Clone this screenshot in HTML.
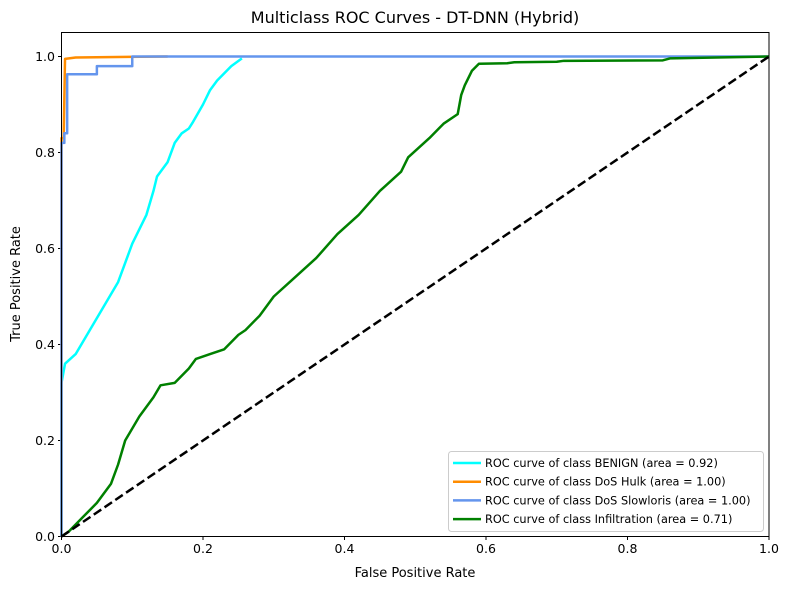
<!DOCTYPE html>
<html><head><meta charset="utf-8"><style>
body{margin:0;background:#fff;}
svg{display:block;font-family:"DejaVu Sans","Liberation Sans",sans-serif;}
</style></head><body>
<svg id="chart" width="789" height="590">
<rect width="789" height="590" fill="#fff"/>
<text x="415" y="23" font-size="16" text-anchor="middle">Multiclass ROC Curves - DT-DNN (Hybrid)</text>
<g id="ticks"></g>
<g id="plot"></g>
<rect x="61.5" y="32.5" width="707.5" height="504" fill="none" stroke="#000" stroke-width="1"/>
<text x="415" y="577" font-size="13" text-anchor="middle">False Positive Rate</text>
<text x="20" y="284" font-size="13" text-anchor="middle" transform="rotate(-90 20 284)">True Positive Rate</text>
<g id="legend"></g>
</svg>
<script>
const xTicks=[0,0.2,0.4,0.6,0.8,1.0];
const yTicks=[0,0.2,0.4,0.6,0.8,1.0];
const xTickLabels=["0.0","0.2","0.4","0.6","0.8","1.0"];
const yTickLabels=["0.0","0.2","0.4","0.6","0.8","1.0"];
const seriesNames=["ROC curve of class BENIGN (area = 0.92)","ROC curve of class DoS Hulk (area = 1.00)","ROC curve of class DoS Slowloris (area = 1.00)","ROC curve of class Infiltration (area = 0.71)"];
const seriesColors=["#00ffff","#ff8c00","#6495ed","#008000"];
const benignFpr=[0,0,0.005,0.02,0.04,0.06,0.08,0.09,0.10,0.11,0.12,0.13,0.135,0.15,0.16,0.17,0.18,0.186,0.20,0.21,0.22,0.24,0.255];
const benignTpr=[0,0.32,0.36,0.38,0.43,0.48,0.53,0.57,0.61,0.64,0.67,0.72,0.75,0.78,0.82,0.84,0.85,0.864,0.90,0.93,0.95,0.98,0.996];
const hulkFpr=[0,0,0.003,0.005,0.02,0.15];
const hulkTpr=[0,0.83,0.83,0.995,0.998,1.0];
const slowFpr=[0,0,0.004,0.004,0.008,0.008,0.05,0.05,0.1,0.1,1];
const slowTpr=[0,0.82,0.82,0.84,0.84,0.963,0.963,0.98,0.98,1.0,1.0];
const infFpr=[0,0.01,0.03,0.05,0.07,0.08,0.09,0.11,0.13,0.14,0.16,0.18,0.19,0.21,0.23,0.25,0.26,0.28,0.3,0.33,0.36,0.39,0.42,0.45,0.48,0.49,0.52,0.54,0.56,0.565,0.57,0.58,0.59,0.63,0.64,0.7,0.71,0.85,0.86,1];
const infTpr=[0,0.01,0.04,0.07,0.11,0.15,0.2,0.25,0.29,0.315,0.32,0.35,0.37,0.38,0.39,0.42,0.43,0.46,0.5,0.54,0.58,0.63,0.67,0.72,0.76,0.79,0.83,0.86,0.88,0.92,0.94,0.97,0.985,0.986,0.988,0.989,0.991,0.992,0.996,1];
const diagX=[0,1];
const diagY=[0,1];

const NS="http://www.w3.org/2000/svg";
const X=v=>61.5+707.5*v, Y=v=>536.5-480*v;
const ticks=document.getElementById('ticks'), plot=document.getElementById('plot'), legend=document.getElementById('legend');
function mk(tag,attrs,parent){const e=document.createElementNS(NS,tag);for(const k in attrs)e.setAttribute(k,attrs[k]);parent.appendChild(e);return e;}
xTicks.forEach((t,i)=>{
  const l=mk('line',{x1:X(t),x2:X(t),y1:536.5,y2:540,stroke:'#000'},ticks);
  
  
  const tx=mk('text',{x:X(t),y:553,'font-size':12.5,'text-anchor':'middle'},ticks);tx.textContent=xTickLabels[i];
  
  
});
yTicks.forEach((t,i)=>{
  const l=mk('line',{x1:58,x2:61.5,y1:Y(t),y2:Y(t),stroke:'#000'},ticks);
  
  
  const tx=mk('text',{x:55,y:Y(t)+4.5,'font-size':12.5,'text-anchor':'end'},ticks);tx.textContent=yTickLabels[i];
  
  
});
function line(xs,ys,color,name,dash){
  const p=mk('polyline',{points:xs.map((x,i)=>X(x)+','+Y(ys[i])).join(' '),fill:'none',stroke:color,'stroke-width':2.5,'stroke-linejoin':'round'},plot);
  if(dash)p.setAttribute('stroke-dasharray',dash);
  
  
}
line(benignFpr,benignTpr,seriesColors[0],'roc-benign');
line(hulkFpr,hulkTpr,seriesColors[1],'roc-dos-hulk');
line(slowFpr,slowTpr,seriesColors[2],'roc-dos-slowloris');
line(infFpr,infTpr,seriesColors[3],'roc-infiltration');
line(diagX,diagY,'#000','chance-diagonal','9,4');
const lb=mk('rect',{x:448.5,y:451.5,width:315,height:80,rx:3,fill:'#fff','fill-opacity':0.8,stroke:'#ccc'},legend);


seriesNames.forEach((n,i)=>{
  const y=463+18.7*i;
  const g=mk('g',{},legend);
  
  
  mk('line',{x1:453,x2:481,y1:y,y2:y,stroke:seriesColors[i],'stroke-width':2.5},g);
  const t=mk('text',{x:485,y:y+4,'font-size':11.3},g);t.textContent=n;
});
</script>
</body></html>
